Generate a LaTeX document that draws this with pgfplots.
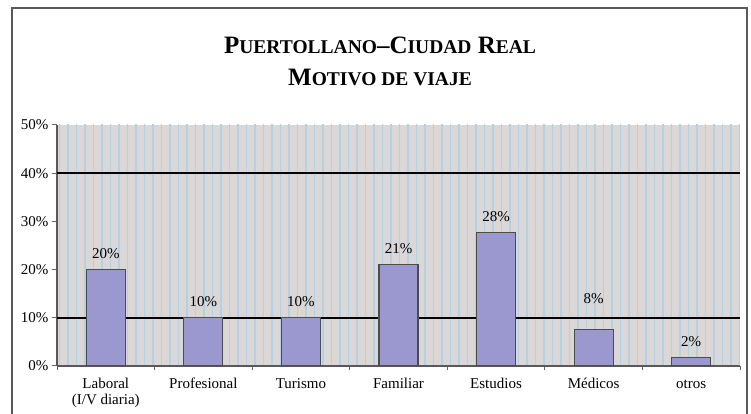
\documentclass[border=0pt]{standalone}
\usepackage{fontspec}
\setmainfont{Liberation Serif}
\usepackage{pgfplots}
\pgfplotsset{compat=1.18}
\usetikzlibrary{patterns.meta}
\definecolor{barfill}{RGB}{154,152,206}
\definecolor{plotbg}{RGB}{218,215,214}
\definecolor{streak}{RGB}{180,208,228}
\newcommand{\sm}[1]{{\fontsize{19.5}{20}\selectfont #1}}
\begin{document}
\begin{tikzpicture}[x=1pt,y=1pt]
\useasboundingbox (0,0) rectangle (751,414);
\draw[black!65, line width=2pt] (12,-5) -- (12,406) -- (747,406) -- (747,-5);
\node[font=\bfseries\fontsize{25}{30}\selectfont, anchor=base] at (380,360) {P\sm{UERTOLLANO}–C\sm{IUDAD} R\sm{EAL}};
\node[font=\bfseries\fontsize{25}{30}\selectfont, anchor=base] at (380,328) {M\sm{OTIVO DE VIAJE}};
\begin{axis}[
  at={(57pt,48pt)}, anchor=south west,
  scale only axis, width=683pt, height=241pt,
  ymin=0, ymax=50, xmin=-0.5, xmax=6.5,
  axis lines*=left,
  axis line style={black!65, line width=1.2pt},
  axis background/.style={fill=plotbg, postaction={pattern={Lines[angle=90, distance=8.5pt, line width=1.1pt]}, pattern color=streak}},
  ybar, bar width=39pt, bar shift=0pt,
  ytick={0,10,...,50},
  yticklabel={\pgfmathprintnumber{\tick}\%},
  /pgf/number format/assume math mode=true,
  xtick={0,...,6},
  xticklabels={{\strut Laboral\\(I/V diaria)},\strut Profesional,\strut Turismo,\strut Familiar,\strut Estudios,\strut Médicos,\strut otros},
  minor xtick={-0.5,0.5,...,6.5},
  tick align=outside,
  major tick length=5pt, minor tick length=4pt,
  major x tick style={draw=none},
  minor x tick style={draw=black!60, line width=1pt},
  y tick style={draw=black!60, line width=1pt},
  tick label style={font=\fontsize{15}{16}\selectfont},
  xticklabel style={align=center},
  x tick label style={yshift=-3pt},
  extra y ticks={10,40}, extra y tick labels={},
  extra y tick style={grid=major, major grid style={black, line width=1.6pt}},
  nodes near coords, point meta=explicit symbolic,
  nodes near coords style={font=\fontsize{15}{16}\selectfont, yshift=7pt},
]
\addplot[fill=barfill, draw=black!70, line width=1.2pt] coordinates {
  (0,20) [20\%]
  (1,10) [10\%]
  (2,10) [10\%]
  (3,21) [21\%]
  (4,27.7) [28\%]
  (6,1.8) [2\%]
};
\addplot[fill=barfill, draw=black!70, line width=1.2pt, nodes near coords style={yshift=15pt}] coordinates {
  (5,7.5) [8\%]
};
\end{axis}
\end{tikzpicture}
\end{document}
